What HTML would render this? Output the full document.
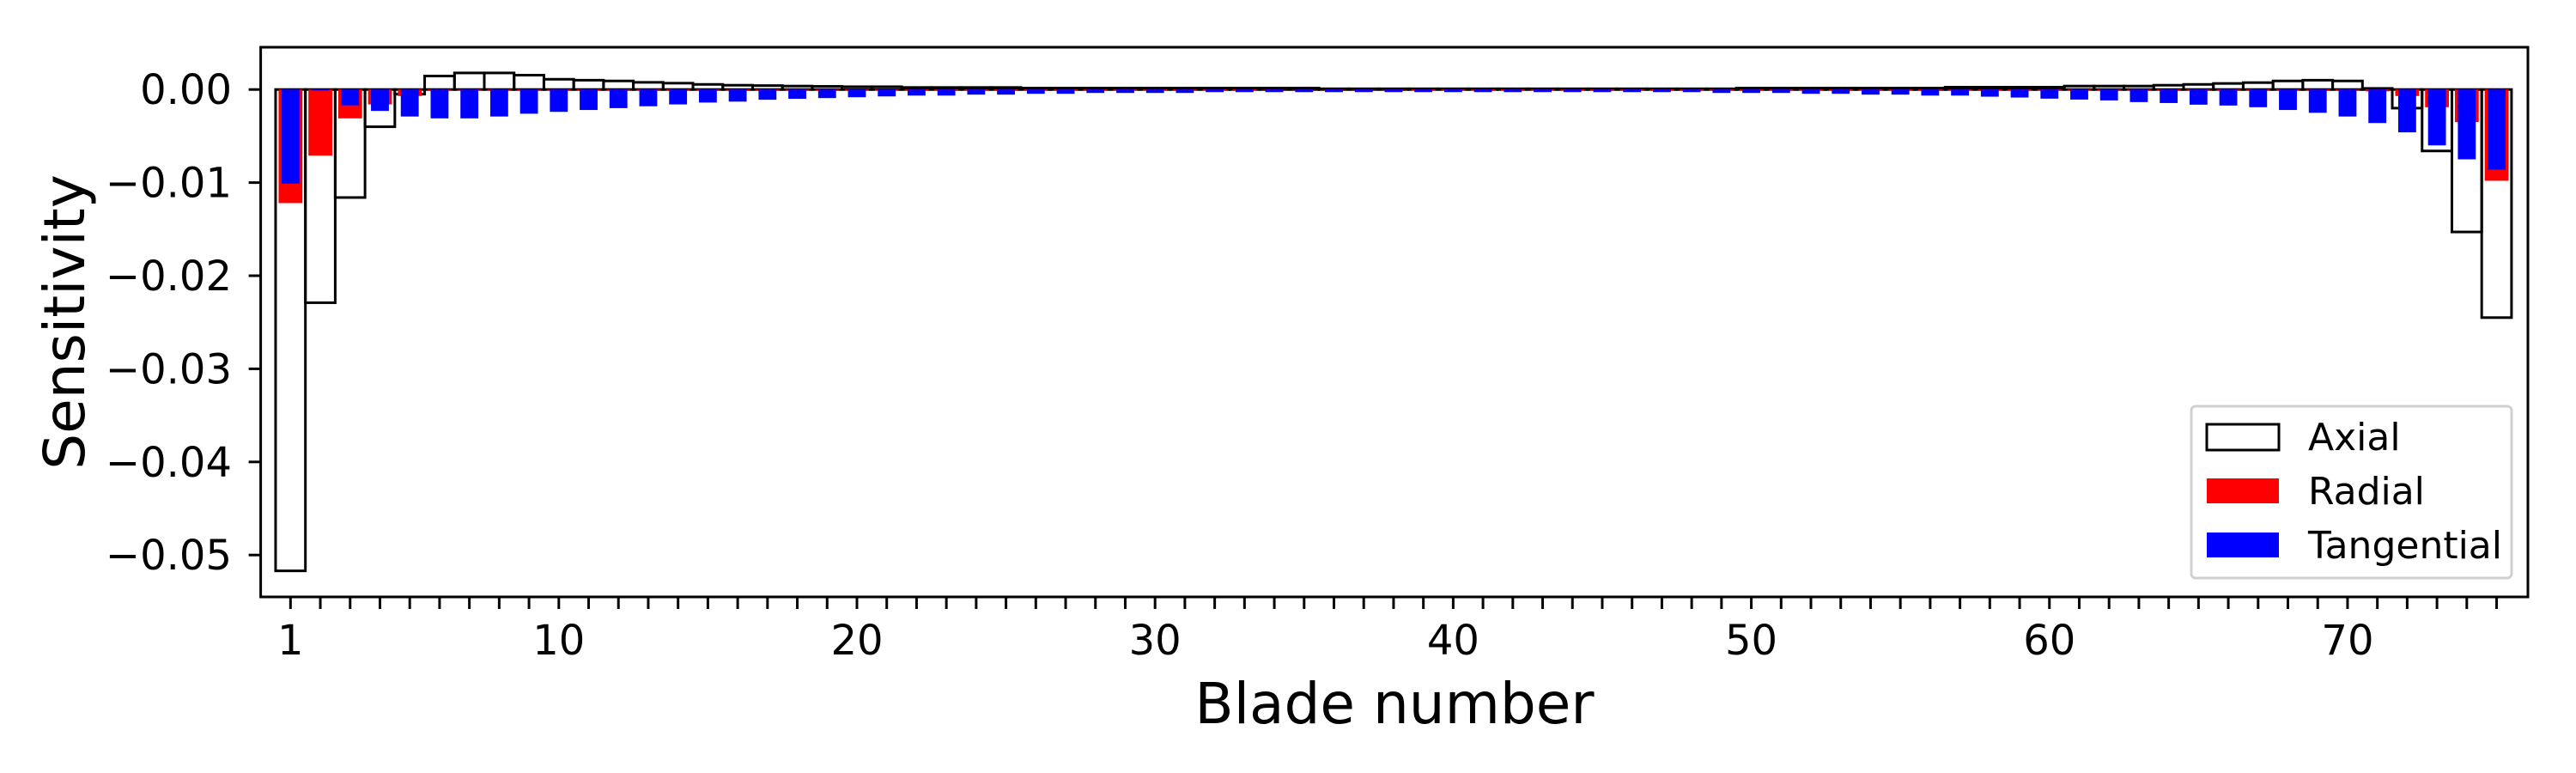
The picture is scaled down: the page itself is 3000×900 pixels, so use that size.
<!DOCTYPE html>
<html><head><meta charset="utf-8"><style>
html,body{margin:0;padding:0;background:#fff;}
svg{display:block;font-family:"DejaVu Sans","Liberation Sans",sans-serif;}
</style></head><body>
<svg id="chart" width="3000" height="900" viewBox="0 0 3000 900" xmlns="http://www.w3.org/2000/svg">
<rect width="3000" height="900" fill="#fff"/>
<g id="bars-axial"></g>
<g id="bars-radial"></g>
<g id="bars-tangential"></g>
<g id="axes"></g>
<text x="0" y="0" font-size="66" text-anchor="middle" transform="translate(98,375) rotate(-90)">Sensitivity</text>
<text x="1624" y="842" font-size="66" text-anchor="middle">Blade number</text>
<g>
<rect x="2552" y="473" width="373" height="200" rx="5" fill="#fff" fill-opacity="0.8" stroke="#d0d0d0" stroke-width="3"/>
<g>
<rect x="2570" y="494" width="84" height="30" fill="none" stroke="#000" stroke-width="3"/>
<text x="2688" y="524" font-size="44">Axial</text></g>
<g>
<rect x="2570" y="557" width="84" height="29" fill="#ff0000"/>
<text x="2688" y="587" font-size="44">Radial</text></g>
<g>
<rect x="2570" y="620" width="84" height="29" fill="#0000ff"/>
<text x="2688" y="650" font-size="44">Tangential</text></g>
</g>
</svg>
<script>
const axialValues = [-0.0517,-0.0229,-0.0116,-0.0040,-0.0005,0.00145,0.00178,0.00178,0.00154,0.00110,0.00100,0.00092,0.00077,0.00068,0.00055,0.00046,0.00042,0.00037,0.00034,0.00030,0.00030,
0.00022,0.00022,0.00022,0.00022,
0.00015,0.00015,0.00015,0.00015,0.00015,0.00015,0.00015,0.00015,0.00015,0.00015,
0.00008,0.00008,0.00008,0.00008,0.00008,0.00008,0.00008,0.00008,0.00008,0.00008,0.00008,0.00008,0.00008,0.00008,
0.00015,0.00015,0.00015,0.00015,0.00015,0.00015,0.00015,
0.00025,0.00025,0.00025,0.00025,
0.00037,0.00037,0.00037,
0.00046,0.00055,0.00065,0.00074,0.00092,0.00100,0.00092,0.00012,-0.0020,-0.0066,-0.0153,-0.0245];
const radialValues = [-0.0122,-0.0071,-0.0031,-0.0016,-0.0007,
-0.0001,-0.0001,-0.0001,-0.0001,-0.0001,-0.0001,-0.0001,-0.0001,-0.0001,-0.0001,-0.0001,-0.0001,-0.0001,-0.0001,-0.0001,-0.0001,-0.0001,-0.0001,-0.0001,-0.0001,-0.0001,-0.0001,-0.0001,-0.0001,-0.0001,-0.0001,-0.0001,-0.0001,
-0.00003,-0.00003,-0.00003,-0.00003,-0.00003,
-0.0001,-0.0001,-0.0001,-0.0001,-0.0001,-0.0001,-0.0001,-0.0001,-0.0001,-0.0001,-0.0001,-0.0001,-0.0001,-0.0001,-0.0001,-0.0001,-0.0001,-0.0001,-0.0001,-0.0001,-0.0001,-0.0001,-0.0001,-0.0001,-0.0001,-0.0001,-0.0001,-0.0001,-0.0001,-0.0001,-0.0001,-0.0001,
-0.0002,-0.0007,-0.0019,-0.0035,-0.0098];
const tangentialValues = [-0.0101,-0.0001,-0.0017,-0.0023,-0.0029,-0.0031,-0.0031,-0.0029,-0.0026,-0.0024,-0.0022,-0.0020,-0.0018,-0.0016,-0.0014,-0.0013,-0.0011,-0.0010,-0.00092,-0.00083,-0.00074,-0.00065,-0.00065,-0.00055,-0.00055,-0.00046,-0.00046,-0.00037,-0.00037,-0.00037,-0.00037,
-0.00028,-0.00028,-0.00028,-0.00028,-0.00028,-0.00028,-0.00028,-0.00028,-0.00028,-0.00028,-0.00028,-0.00028,-0.00028,-0.00028,-0.00028,-0.00028,-0.00028,
-0.00037,-0.00037,-0.00037,-0.00046,-0.00046,-0.00055,-0.00055,-0.00065,-0.00065,
-0.00077,-0.00086,-0.00098,-0.00108,-0.00117,-0.00135,-0.00145,-0.00163,-0.00172,-0.0019,-0.0022,-0.0025,-0.0029,-0.0036,-0.0046,-0.0060,-0.0075,-0.0086];
const xTickLabels = [1,10,20,30,40,50,60,70];
const yTickValues = [0,-0.01,-0.02,-0.03,-0.04,-0.05];
const yTickLabels = ["0.00","\u22120.01","\u22120.02","\u22120.03","\u22120.04","\u22120.05"];

const NS="http://www.w3.org/2000/svg";
const L=303.6,R=2944,T=55,B=695;
const xMin=0,xMax=76.05,yMin=-0.0545,yMax=0.00454;
function xs(v){return L+(v-xMin)/(xMax-xMin)*(R-L);}
function ys(v){return T+(yMax-v)/(yMax-yMin)*(B-T);}
function mk(tag,attrs,parent){const e=document.createElementNS(NS,tag);for(const k in attrs)e.setAttribute(k,attrs[k]);parent.appendChild(e);return e;}

function drawBars(groupId,vals,width,fill,stroke,name){
  const g=document.getElementById(groupId);
  vals.forEach((v,i)=>{
    const n=i+1;
    const x0=xs(n-width/2),x1=xs(n+width/2);
    const y0=ys(Math.max(v,0)),y1=ys(Math.min(v,0));
    const r=mk('rect',{x:x0,y:y0,width:x1-x0,height:Math.max(y1-y0,0.01),fill:fill},g);
    if(stroke){r.setAttribute('stroke',stroke);r.setAttribute('stroke-width','3');}
    
    
  });
}
drawBars('bars-axial',axialValues,1.0,'none','#000','axial');
drawBars('bars-radial',radialValues,0.8,'#ff0000',null,'radial');
drawBars('bars-tangential',tangentialValues,0.6,'#0000ff',null,'tangential');

const ax=document.getElementById('axes');
const frame=mk('rect',{x:L,y:T,width:R-L,height:B-T,fill:'none',stroke:'#000','stroke-width':3},ax);


for(let n=1;n<=75;n++){
  const t=mk('line',{x1:xs(n),x2:xs(n),y1:B,y2:B+14,stroke:'#000','stroke-width':3},ax);
  
  
}
xTickLabels.forEach(v=>{
  const t=mk('text',{x:xs(v),y:762,'font-size':48,'text-anchor':'middle'},ax);
  t.textContent=String(v);
  
  
});
yTickValues.forEach((v,i)=>{
  const y=ys(v);
  const t=mk('line',{x1:L-14,x2:L,y1:y,y2:y,stroke:'#000','stroke-width':3},ax);
  
  
  const lb=mk('text',{x:270,y:y+17,'font-size':48,'text-anchor':'end'},ax);
  lb.textContent=yTickLabels[i];
  
  
});
</script>
</body></html>
